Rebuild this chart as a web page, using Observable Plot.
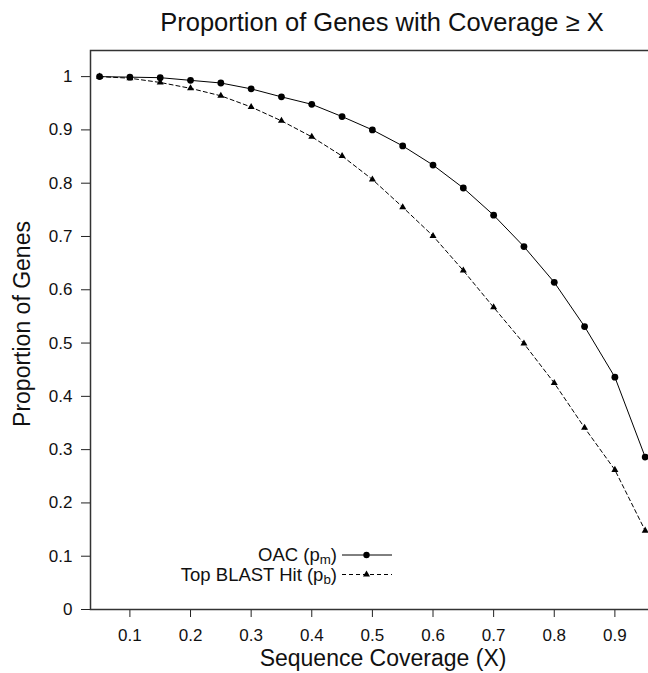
<!DOCTYPE html>
<html>
<head>
<meta charset="utf-8">
<script src="https://cdn.jsdelivr.net/npm/d3@7"></script>
<script src="https://cdn.jsdelivr.net/npm/@observablehq/plot@0.6"></script>
<style>
  body { margin: 0; background: white; }
  #wrap { position: relative; width: 648px; height: 673px; overflow: hidden; background: white;
          font-family: "Liberation Sans", Arial, Helvetica, sans-serif; color: #111; }
  #title { position: absolute; left: 0; width: 764px; top: 9px; text-align: center;
           font-size: 25.5px; line-height: 26px; white-space: nowrap; }
  #chart { position: absolute; left: 0; top: 40px; width: 680px; }
  #chart svg { max-width: none !important; }
  .leg { position: absolute; right: 311px; font-size: 18.5px; line-height: 17px; height: 17px; white-space: nowrap; text-align: right; }
  .leg sub { font-size: 0.72em; vertical-align: -0.2em; line-height: 0; }
  #legsym { position: absolute; left: 342px; top: 547px; }
</style>
</head>
<body>
<div id="wrap">
  <div id="title">Proportion of Genes with Coverage ≥ X</div>
  <div id="chart"></div>
  <div class="leg" style="top:546px">OAC (p<sub>m</sub>)</div>
  <div class="leg" style="top:565.5px">Top BLAST Hit (p<sub>b</sub>)</div>
  <svg id="legsym" width="54" height="36"></svg>
</div>
<script>
// Sequence coverage threshold X
const coverage = [0.05, 0.10, 0.15, 0.20, 0.25, 0.30, 0.35, 0.40, 0.45, 0.50,
                  0.55, 0.60, 0.65, 0.70, 0.75, 0.80, 0.85, 0.90, 0.95];
// OAC (p_m)
const oacValues = [1.000, 0.999, 0.998, 0.993, 0.988, 0.977, 0.962, 0.948, 0.925, 0.900,
                   0.870, 0.834, 0.791, 0.740, 0.681, 0.614, 0.531, 0.436, 0.286];
// Top BLAST Hit (p_b)
const blastValues = [1.000, 0.997, 0.989, 0.978, 0.964, 0.943, 0.917, 0.887, 0.851, 0.807,
                     0.755, 0.701, 0.636, 0.567, 0.499, 0.425, 0.341, 0.262, 0.148];
const xTicks = [0.1, 0.2, 0.3, 0.4, 0.5, 0.6, 0.7, 0.8, 0.9];
const yTicks = [0, 0.1, 0.2, 0.3, 0.4, 0.5, 0.6, 0.7, 0.8, 0.9, 1];
const seriesNames = ["OAC (p_m)", "Top BLAST Hit (p_b)"];

const oac = coverage.map((x, i) => ({x, y: oacValues[i], s: seriesNames[0]}));
const blast = coverage.map((x, i) => ({x, y: blastValues[i], s: seriesNames[1]}));

const fmt = d => String(+d.toFixed(1));

const chart = Plot.plot({
  width: 680,
  height: 633,
  marginLeft: 90,
  marginRight: 5,
  marginTop: 10,
  marginBottom: 64,
  style: {fontFamily: '"Liberation Sans", Arial, Helvetica, sans-serif', color: "#111", background: "white", maxWidth: "none"},
  x: {domain: [0.035, 1.0]},
  y: {domain: [0, 1.049]},
  marks: [
    Plot.axisX(xTicks, {tickSize: 8, tickPadding: 11, fontSize: 17, tickFormat: fmt, label: null, stroke: "#222"}),
    Plot.axisY(yTicks, {tickSize: 9, tickPadding: 9, fontSize: 17, tickFormat: fmt, label: null, stroke: "#222"}),
    Plot.text(["Sequence Coverage (X)"], {frameAnchor: "bottom", dy: 56, fontSize: 23, fill: "#111"}),
    Plot.text(["Proportion of Genes"], {frameAnchor: "left", textAnchor: "middle", dx: -68, dy: -6, rotate: -90, fontSize: 23, fill: "#111"}),
    Plot.line(oac, {x: "x", y: "y", stroke: "#000", strokeWidth: 1}),
    Plot.line(blast, {x: "x", y: "y", stroke: "#000", strokeWidth: 1, strokeDasharray: "4,3"}),
    Plot.dot(oac, {x: "x", y: "y", r: 3.4, fill: "#000", stroke: "none"}),
    Plot.dot(blast, {x: "x", y: "y", r: 2.6, symbol: "triangle", fill: "#000", stroke: "none"}),
    Plot.frame({stroke: "#333", strokeWidth: 1.5})
  ]
});
document.getElementById("chart").appendChild(chart);

// legend symbols
const leg = d3.select("#legsym");
leg.append("line").attr("x1", 0).attr("x2", 50).attr("y1", 8).attr("y2", 8).attr("stroke", "#000").attr("stroke-width", 1);
leg.append("circle").attr("cx", 24.5).attr("cy", 8).attr("r", 3.2).attr("fill", "#000");
leg.append("line").attr("x1", 0).attr("x2", 50).attr("y1", 27.5).attr("y2", 27.5).attr("stroke", "#000").attr("stroke-width", 1).attr("stroke-dasharray", "4,3");
leg.append("path").attr("d", d3.symbol(d3.symbolTriangle, 2.6 * 2.6 * Math.PI)()).attr("transform", "translate(24.5,27.5)").attr("fill", "#000");
</script>
</body>
</html>
